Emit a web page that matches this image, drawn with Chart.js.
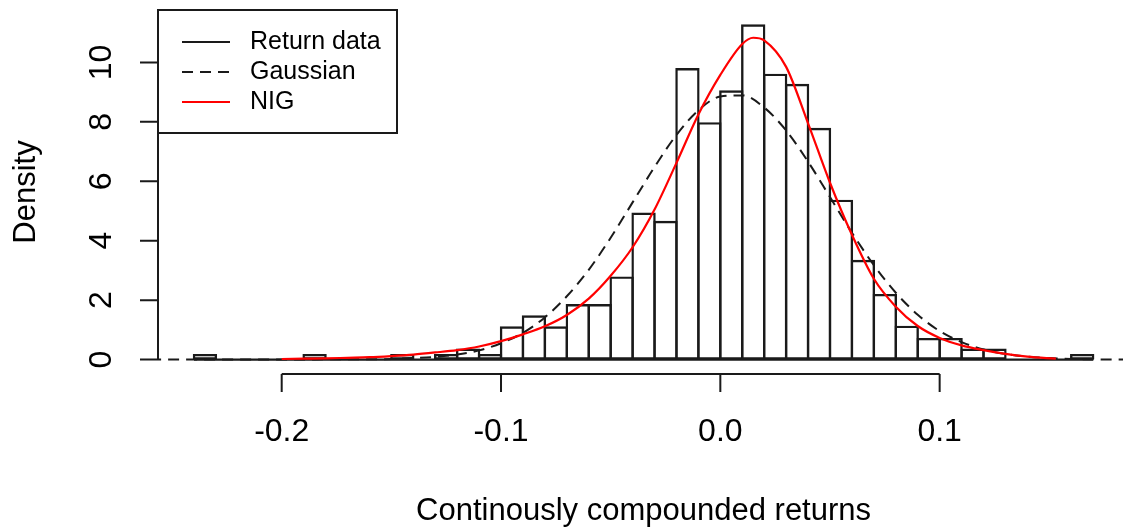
<!DOCTYPE html>
<html>
<head>
<meta charset="utf-8">
<script src="https://cdn.jsdelivr.net/npm/chart.js@4.4.1/dist/chart.umd.min.js"></script>
<style>
  html, body { margin: 0; padding: 0; background: #fff; }
  #wrap { width: 1123px; height: 531px; position: relative; }
</style>
</head>
<body>
<div id="wrap"><canvas id="chart"></canvas></div>
<script>
// histogram: left edge of each bin (width 0.01) and its density
const binWidth = 0.01;
const binStarts = [-0.24, -0.23, -0.22, -0.21, -0.20, -0.19, -0.18, -0.17, -0.16, -0.15,
  -0.14, -0.13, -0.12, -0.11, -0.10, -0.09, -0.08, -0.07, -0.06, -0.05,
  -0.04, -0.03, -0.02, -0.01, 0.00, 0.01, 0.02, 0.03, 0.04, 0.05,
  0.06, 0.07, 0.08, 0.09, 0.10, 0.11, 0.12, 0.13, 0.14, 0.15, 0.16];
const densities = [0.19, 0, 0, 0, 0, 0.19, 0, 0, 0, 0.19,
  0, 0.19, 0.37, 0.19, 1.12, 1.49, 1.12, 1.87, 1.87, 2.80,
  4.95, 4.67, 9.81, 7.99, 9.06, 11.28, 9.62, 9.28, 7.80, 5.38,
  3.36, 2.21, 1.14, 0.73, 0.73, 0.37, 0.37, 0, 0, 0, 0.19];

// fitted gaussian density (dashed)
const gaussX = [-0.26, -0.25, -0.24, -0.23, -0.22, -0.21, -0.20, -0.19, -0.18, -0.17,
  -0.16, -0.15, -0.14, -0.13, -0.12, -0.11, -0.10, -0.09, -0.08, -0.07,
  -0.06, -0.05, -0.04, -0.03, -0.02, -0.01, 0.00, 0.01, 0.02, 0.03,
  0.04, 0.05, 0.06, 0.07, 0.08, 0.09, 0.10, 0.11, 0.12, 0.13,
  0.14, 0.15, 0.16, 0.17, 0.18, 0.19];
const gaussY = [0, 0, 0, 0, 0, 0, 0, 0, 0.01, 0.01,
  0.01, 0.02, 0.05, 0.09, 0.17, 0.31, 0.55, 0.90, 1.42, 2.13,
  3.02, 4.10, 5.29, 6.48, 7.56, 8.39, 8.85, 8.89, 8.48, 7.71,
  6.66, 5.47, 4.27, 3.18, 2.25, 1.51, 0.96, 0.59, 0.34, 0.19,
  0.10, 0.05, 0.02, 0.01, 0, 0];

// fitted NIG density (red)
const nigX = [-0.20, -0.19, -0.18, -0.17, -0.16, -0.15, -0.14, -0.13, -0.12, -0.11,
  -0.10, -0.09, -0.08, -0.07, -0.06, -0.05, -0.04, -0.03, -0.02, -0.01,
  0.00, 0.01, 0.015, 0.02, 0.03, 0.04, 0.05, 0.06, 0.07, 0.08,
  0.09, 0.10, 0.11, 0.12, 0.13, 0.14, 0.153];
const nigY = [0.02, 0.03, 0.04, 0.06, 0.08, 0.12, 0.17, 0.24, 0.32, 0.44,
  0.62, 0.85, 1.12, 1.50, 2.05, 2.82, 3.78, 5.05, 6.62, 8.25,
  9.58, 10.62, 10.83, 10.74, 9.85, 7.95, 5.95, 4.20, 2.72, 1.78,
  1.13, 0.73, 0.48, 0.32, 0.19, 0.10, 0.03];

const xTicks = [-0.2, -0.1, 0.0, 0.1];
const xTickLabels = ['-0.2', '-0.1', '0.0', '0.1'];
const yTicks = [0, 2, 4, 6, 8, 10];
const legendLabels = ['Return data', 'Gaussian', 'NIG'];

const ink = '#1a1a1a';
const fontFamily = '"Liberation Sans", Arial, sans-serif';

// R-style axes, titles and legend box drawn on top of the chart area
const baseAxes = {
  id: 'baseAxes',
  afterDraw(chart) {
    const ctx = chart.ctx;
    const xs = chart.scales.x;
    const ys = chart.scales.y;
    const area = chart.chartArea;
    ctx.save();
    ctx.strokeStyle = ink;
    ctx.fillStyle = '#000';
    ctx.lineWidth = 2;

    // x axis
    const axisY = area.bottom + 1;
    ctx.beginPath();
    ctx.moveTo(xs.getPixelForValue(xTicks[0]), axisY);
    ctx.lineTo(xs.getPixelForValue(xTicks[xTicks.length - 1]), axisY);
    xTicks.forEach(t => {
      const px = xs.getPixelForValue(t);
      ctx.moveTo(px, axisY);
      ctx.lineTo(px, axisY + 18);
    });
    ctx.stroke();
    ctx.font = '32px ' + fontFamily;
    ctx.textAlign = 'center';
    ctx.textBaseline = 'middle';
    xTicks.forEach((t, i) => {
      ctx.fillText(xTickLabels[i], xs.getPixelForValue(t), axisY + 58);
    });
    ctx.font = '31px ' + fontFamily;
    ctx.fillText('Continously compounded returns', (area.left + xs.getPixelForValue(0.1864)) / 2, axisY + 137);

    // y axis
    const axisX = area.left;
    ctx.beginPath();
    ctx.moveTo(axisX, ys.getPixelForValue(yTicks[0]));
    ctx.lineTo(axisX, ys.getPixelForValue(yTicks[yTicks.length - 1]));
    yTicks.forEach(t => {
      const py = ys.getPixelForValue(t);
      ctx.moveTo(axisX, py);
      ctx.lineTo(axisX - 18, py);
    });
    ctx.stroke();
    ctx.font = '32px ' + fontFamily;
    yTicks.forEach(t => {
      ctx.save();
      ctx.translate(axisX - 56, ys.getPixelForValue(t));
      ctx.rotate(-Math.PI / 2);
      ctx.fillText(String(t), 0, 0);
      ctx.restore();
    });
    ctx.save();
    ctx.font = '31px ' + fontFamily;
    ctx.translate(axisX - 132, (area.top + area.bottom) / 2);
    ctx.rotate(-Math.PI / 2);
    ctx.fillText('Density', 0, 0);
    ctx.restore();

    // legend
    const lx = area.left, ly = area.top - 1;
    ctx.fillStyle = '#fff';
    ctx.fillRect(lx, ly, 239, 123);
    ctx.strokeRect(lx, ly, 239, 123);
    const styles = [
      { color: ink, dash: [] },
      { color: ink, dash: [11, 7] },
      { color: '#ff0000', dash: [] }
    ];
    ctx.font = '25px ' + fontFamily;
    ctx.textAlign = 'left';
    legendLabels.forEach((lab, i) => {
      const rowY = ly + 32 + i * 30;
      ctx.strokeStyle = styles[i].color;
      ctx.setLineDash(styles[i].dash);
      ctx.lineWidth = 2;
      ctx.beginPath();
      ctx.moveTo(lx + 24, rowY);
      ctx.lineTo(lx + 72, rowY);
      ctx.stroke();
      ctx.fillStyle = '#000';
      ctx.fillText(lab, lx + 92, rowY);
    });
    ctx.restore();
  }
};

new Chart(document.getElementById('chart'), {
  data: {
    datasets: [
      {
        type: 'line',
        label: 'NIG',
        data: nigX.map((x, i) => ({ x: x, y: nigY[i] })),
        borderColor: '#ff0000',
        borderWidth: 2.2,
        pointRadius: 0,
        cubicInterpolationMode: 'monotone',
        order: 0
      },
      {
        type: 'line',
        label: 'Gaussian',
        data: gaussX.map((x, i) => ({ x: x, y: gaussY[i] })),
        borderColor: ink,
        borderWidth: 2,
        borderDash: [11, 7],
        pointRadius: 0,
        cubicInterpolationMode: 'monotone',
        order: 1
      },
      {
        type: 'line',
        label: 'baseline',
        data: [
          { x: binStarts[0], y: 0 },
          { x: binStarts[binStarts.length - 1] + binWidth, y: 0 }
        ],
        borderColor: ink,
        borderWidth: 2.4,
        pointRadius: 0,
        order: 2
      },
      {
        type: 'bar',
        label: 'Return data',
        data: binStarts.map((s, i) => ({ x: s + binWidth / 2, y: densities[i] })),
        backgroundColor: 'rgba(0,0,0,0)',
        borderColor: ink,
        borderWidth: 2.4,
        borderSkipped: false,
        barPercentage: 1.11,
        categoryPercentage: 1,
        order: 3
      }
    ]
  },
  options: {
    responsive: true,
    maintainAspectRatio: false,
    animation: false,
    events: [],
    layout: { padding: { left: 158, top: 11, right: 0, bottom: 158 } },
    scales: {
      x: { type: 'linear', min: -0.2564, max: 0.1836, offset: false, display: false },
      y: { type: 'linear', min: -0.451, max: 11.73, display: false }
    },
    plugins: {
      legend: { display: false },
      tooltip: { enabled: false }
    }
  },
  plugins: [baseAxes]
});
</script>
</body>
</html>
